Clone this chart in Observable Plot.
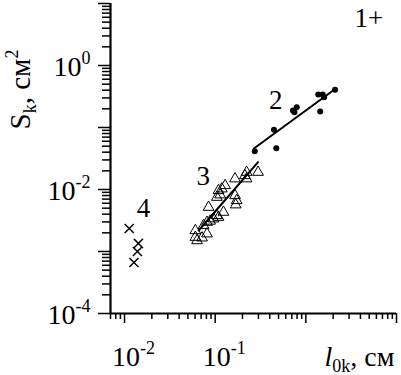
<!DOCTYPE html>
<html><head><meta charset="utf-8">
<script src="https://cdn.jsdelivr.net/npm/d3@7"></script>
<script src="https://cdn.jsdelivr.net/npm/@observablehq/plot@0.6"></script>
<style>body{margin:0;background:#fff} svg{display:block} svg text{font-family:'Liberation Serif','Times New Roman',serif}</style>
</head><body><div id="chart"></div>
<script>
// Series 2 (filled circles)
const circX = [0.2735, 0.472, 0.445, 0.748, 0.793, 0.72, 1.44, 1.37, 1.53, 1.59, 2.10];
const circY = [0.0415, 0.0464, 0.0918, 0.1766, 0.2125, 0.188, 0.181, 0.340, 0.340, 0.308, 0.406];
const fit2X = [0.267, 2.05];
const fit2Y = [0.0458, 0.406];
// Series 3 (open triangles)
const triX = [0.0604, 0.0631, 0.0716, 0.0604, 0.0812, 0.0745, 0.0812, 0.0958, 0.088, 0.1087, 0.1044, 0.1233, 0.0845, 0.1044, 0.1135, 0.1087, 0.1183, 0.1286, 0.1655, 0.1655, 0.1726, 0.1683, 0.2219, 0.2219, 0.297, 0.213];
const triY = [0.00170, 0.00150, 0.00166, 0.00218, 0.00193, 0.00263, 0.00297, 0.00337, 0.0031, 0.00357, 0.00381, 0.00431, 0.00518, 0.00751, 0.00822, 0.00964, 0.01026, 0.0116, 0.0149, 0.0080, 0.00665, 0.00567, 0.0190, 0.0149, 0.0190, 0.0168];
const fit3X = [0.0657, 0.297];
const fit3Y = [0.00218, 0.0276];
// Series 4 (crosses)
const crossX = [0.01127, 0.01422, 0.01387, 0.0127];
const crossY = [0.00235, 0.00135, 0.00100, 0.000665];
// Series labels
const seriesLabels = ["1+", "2", "3", "4"];
const seriesLabelX = [4.94, 0.465, 0.0740, 0.01614];
const seriesLabelY = [5.73, 0.272, 0.0162, 0.00494];
// Axes
const xDomain = [0.007, 10];
const yDomain = [1e-4, 10];
const xMajor = [0.01, 0.1, 1, 10];
const yMajor = [1e-4, 1e-3, 1e-2, 1e-1, 1, 10];
const xLabelVals = [0.01, 0.1];
const xLabelTexts = ["10^{-2}", "10^{-1}"];
const yLabelVals = [1, 0.01, 1e-4];
const yLabelTexts = ["10^{0}", "10^{-2}", "10^{-4}"];
const xTitle = "*{l}_{0k}, см";
const yTitle = "S_{k}, см^{2}";

function minorTicks(lo, hi) {
  const out = [];
  for (let e = Math.floor(Math.log10(lo)); e < Math.log10(hi); e++)
    for (let k = 2; k <= 9; k++) { const v = k * Math.pow(10, e); if (v >= lo * 0.999 && v <= hi) out.push(+v.toPrecision(3)); }
  return out;
}
const xMinor = minorTicks(xDomain[0], xDomain[1]);
const yMinor = minorTicks(yDomain[0], yDomain[1]);

const pts = (X, Y) => X.map((x, i) => ({x, y: Y[i]}));
const font = "'Liberation Serif', 'Times New Roman', serif";

const plot = Plot.plot({
  width: 401, height: 375,
  marginLeft: 110, marginRight: 5, marginTop: 3, marginBottom: 62,
  style: {fontFamily: font, fontSize: "28px", background: "white", color: "black", overflow: "visible"},
  x: {type: "log", domain: xDomain},
  y: {type: "log", domain: yDomain},
  marks: [
    Plot.axisX({ticks: xMinor, tickSize: 6, tickFormat: () => "", label: null, strokeWidth: 1.5}),
    Plot.axisX({ticks: xMajor, tickSize: 10, tickFormat: () => "", label: null, strokeWidth: 1.5}),
    Plot.axisY({ticks: yMinor, tickSize: 8, tickFormat: () => "", label: null, strokeWidth: 1.5}),
    Plot.axisY({ticks: yMajor, tickSize: 12, tickFormat: () => "", label: null, strokeWidth: 1.5}),
    Plot.ruleX([xDomain[0]], {strokeWidth: 2.2}),
    Plot.ruleY([yDomain[0]], {strokeWidth: 2.2, dx: 0}),
    Plot.text(xLabelVals, {x: d => d, frameAnchor: "bottom", dy: 52, lineAnchor: "bottom", textAnchor: "middle", dx: 9, text: (d, i) => xLabelTexts[i], fontSize: 28, fontFamily: font}),
    Plot.text(yLabelVals, {y: d => d, frameAnchor: "left", dx: -20, dy: 2, lineAnchor: "middle", textAnchor: "end", text: (d, i) => yLabelTexts[i], fontSize: 28, fontFamily: font}),
    Plot.text([xTitle], {frameAnchor: "bottom-right", dx: -2, dy: 52, lineAnchor: "bottom", textAnchor: "end", text: d => d, fontSize: 28, fontFamily: font}),
    Plot.text([yTitle], {frameAnchor: "top-left", dx: -81, dy: 86, rotate: -90, lineAnchor: "bottom", textAnchor: "middle", text: d => d, fontSize: 29, fontFamily: font}),
    Plot.line(pts(fit2X, fit2Y), {x: "x", y: "y", stroke: "black", strokeWidth: 2}),
    Plot.line(pts(fit3X, fit3Y), {x: "x", y: "y", stroke: "black", strokeWidth: 2}),
    Plot.dot(pts(circX, circY), {x: "x", y: "y", r: 3, fill: "black"}),
    Plot.dot(pts(triX, triY), {x: "x", y: "y", r: 4, symbol: "triangle", stroke: "black", strokeWidth: 1, fill: "none"}),
    Plot.dot(pts(crossX, crossY), {x: "x", y: "y", r: 4.2, symbol: "times", stroke: "black", strokeWidth: 1.5}),
    Plot.text(seriesLabels, {x: (d, i) => seriesLabelX[i], y: (d, i) => seriesLabelY[i], text: d => d, fontSize: 27, fontFamily: font, lineAnchor: "middle", textAnchor: "middle"})
  ]
});

function rich(node, fs) {
  const s = node.textContent;
  const small = Math.round(fs * 0.66);
  while (node.firstChild) node.removeChild(node.firstChild);
  const re = /([_^*])\{([^}]*)\}|([^_^*]+)/g;
  let m, shift = 0;
  while ((m = re.exec(s))) {
    const t = document.createElementNS("http://www.w3.org/2000/svg", "tspan");
    let target = 0;
    if (m[3] !== undefined) t.textContent = m[3];
    else if (m[1] === "*") { t.textContent = m[2]; t.setAttribute("font-style", "italic"); }
    else {
      t.textContent = m[2];
      t.setAttribute("font-size", small);
      target = m[1] === "^" ? -Math.round(fs * 0.42) : Math.round(fs * 0.22);
    }
    if (target !== shift) t.setAttribute("dy", target - shift);
    shift = target;
    node.appendChild(t);
  }
}
d3.select(plot).selectAll("text").each(function() {
  if (/[_^*]\{/.test(this.textContent)) rich(this, 28);
});
document.getElementById("chart").appendChild(plot);
</script>
</body></html>
